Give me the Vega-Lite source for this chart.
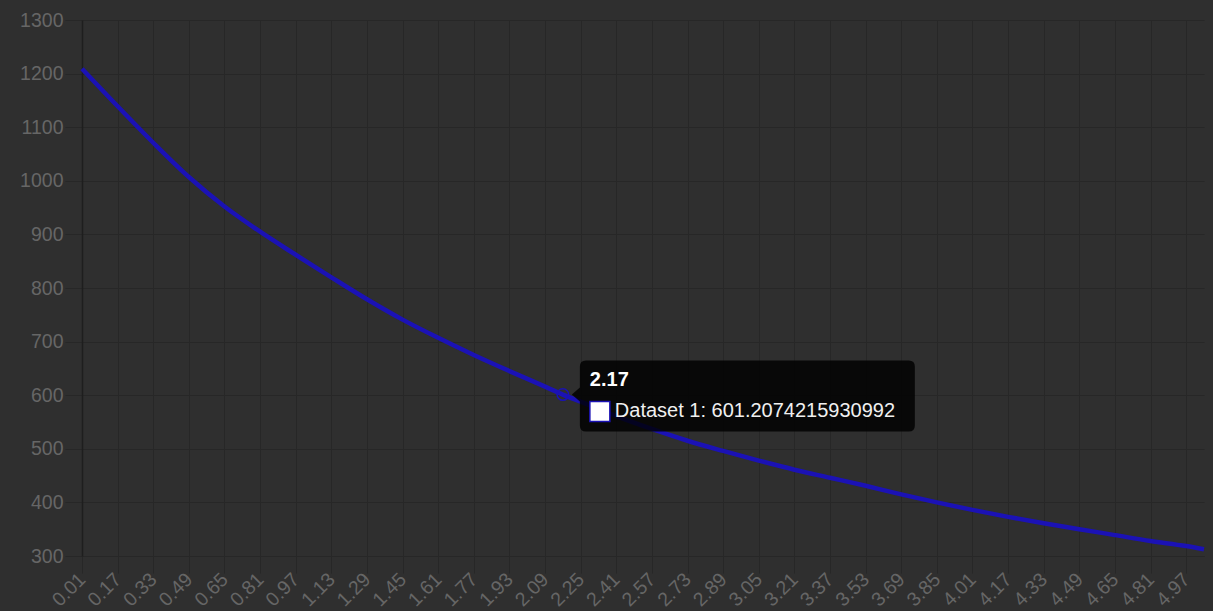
{
  "$schema": "https://vega.github.io/schema/vega-lite/v6.json",
  "width": 1122,
  "height": 536,
  "autosize": {"type": "none"},
  "padding": {"left": 82, "top": 20, "right": 9, "bottom": 55},
  "background": "#2f2f2f",
  "config": {"view": {"stroke": null}, "font": "Liberation Sans"},
  "datasets": {
    "curve": [
      {"x": 0.01, "y": 1209}, {"x": 0.17, "y": 1139}, {"x": 0.33, "y": 1071}, {"x": 0.49, "y": 1007},
      {"x": 0.65, "y": 952}, {"x": 0.81, "y": 905}, {"x": 0.97, "y": 862}, {"x": 1.13, "y": 820},
      {"x": 1.29, "y": 779}, {"x": 1.45, "y": 741}, {"x": 1.61, "y": 707}, {"x": 1.77, "y": 675},
      {"x": 1.93, "y": 645}, {"x": 2.09, "y": 616}, {"x": 2.17, "y": 601.2074215930992}, {"x": 2.25, "y": 588},
      {"x": 2.41, "y": 561}, {"x": 2.57, "y": 537}, {"x": 2.73, "y": 515}, {"x": 2.89, "y": 496},
      {"x": 3.05, "y": 478}, {"x": 3.21, "y": 461}, {"x": 3.37, "y": 446}, {"x": 3.53, "y": 431},
      {"x": 3.69, "y": 415}, {"x": 3.85, "y": 400}, {"x": 4.01, "y": 386}, {"x": 4.17, "y": 373},
      {"x": 4.33, "y": 361}, {"x": 4.49, "y": 350}, {"x": 4.65, "y": 339}, {"x": 4.81, "y": 328},
      {"x": 4.97, "y": 318.5}, {"x": 5.05, "y": 312.5}
    ],
    "hover": [
      {"x": 2.17, "y": 601.2074215930992, "title": "2.17", "label": "Dataset 1: 601.2074215930992"}
    ]
  },
  "encoding": {
    "x": {
      "field": "x", "type": "quantitative",
      "scale": {"domain": [0.01, 5.05], "nice": false, "zero": false},
      "axis": {
        "title": null,
        "values": [0.01, 0.17, 0.33, 0.49, 0.65, 0.81, 0.97, 1.13, 1.29, 1.45, 1.61, 1.77, 1.93, 2.09, 2.25, 2.41, 2.57, 2.73, 2.89, 3.05, 3.21, 3.37, 3.53, 3.69, 3.85, 4.01, 4.17, 4.33, 4.49, 4.65, 4.81, 4.97],
        "format": ".2f",
        "labelAngle": -45, "labelAlign": "right", "labelBaseline": "middle",
        "labelFontSize": 19.5, "labelColor": "#666666", "labelPadding": 3,
        "labelOverlap": false, "labelFlush": false,
        "tickSize": 17, "tickColor": "#272727", "tickWidth": 1,
        "grid": true, "gridColor": "#272727", "gridWidth": 1,
        "domainColor": "#272727", "domainWidth": 1
      }
    },
    "y": {
      "field": "y", "type": "quantitative",
      "scale": {"domain": [300, 1300], "nice": false, "zero": false},
      "axis": {
        "title": null,
        "format": "d",
        "values": [300, 400, 500, 600, 700, 800, 900, 1000, 1100, 1200, 1300],
        "labelFontSize": 19.5, "labelColor": "#666666", "labelPadding": 2,
        "tickSize": 17, "tickColor": "#272727",
        "grid": true, "gridColor": "#272727",
        "domainColor": "#1e1e1e", "domainWidth": 1.5
      }
    }
  },
  "layer": [
    {
      "data": {"name": "curve"},
      "mark": {"type": "line", "color": "#1b12b5", "strokeWidth": 4.5, "interpolate": "monotone", "strokeCap": "butt"}
    },
    {
      "data": {"name": "hover"},
      "mark": {"type": "point", "shape": "circle", "size": 133, "filled": false, "stroke": "#1b12b5", "strokeWidth": 1.5, "opacity": 1}
    },
    {
      "data": {"name": "hover"},
      "mark": {"type": "point", "shape": "M17,-28 Q17,-34 23,-34 L346,-34 Q352,-34 352,-28 L352,31 Q352,37 346,37 L23,37 Q17,37 17,31 L17,7 L9,0 L17,-7 Z", "size": 4, "filled": true, "fill": "#000000", "opacity": 0.82, "strokeWidth": 0}
    },
    {
      "data": {"name": "hover"},
      "mark": {"type": "point", "shape": "M27,7 L47,7 L47,27 L27,27 Z", "size": 4, "filled": true, "fill": "#ffffff", "stroke": "#1b12b5", "strokeWidth": 1.5, "opacity": 1}
    },
    {
      "data": {"name": "hover"},
      "mark": {"type": "text", "align": "left", "baseline": "alphabetic", "dx": 27, "dy": -9, "fontSize": 20, "fontWeight": "bold", "color": "#ffffff"},
      "encoding": {"text": {"field": "title"}}
    },
    {
      "data": {"name": "hover"},
      "mark": {"type": "text", "align": "left", "baseline": "alphabetic", "dx": 52, "dy": 22, "fontSize": 20, "color": "#f0f0f0"},
      "encoding": {"text": {"field": "label"}}
    }
  ]
}
